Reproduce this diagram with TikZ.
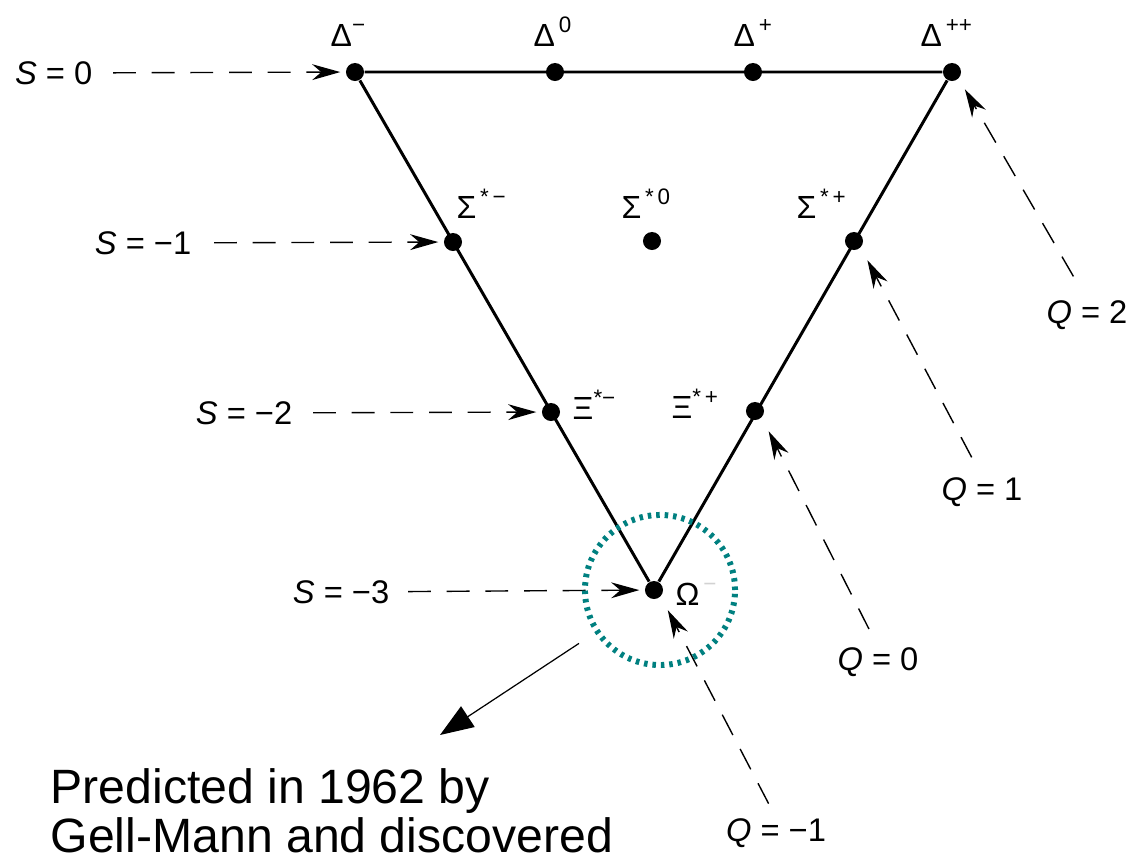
\documentclass[tikz,border=0pt]{standalone}
\usepackage{fontspec}
\setmainfont{Liberation Sans}
\usetikzlibrary{arrows.meta}
\definecolor{ringteal}{RGB}{0,128,128}

\begin{document}
\begin{tikzpicture}[x=0.01cm, y=-0.01cm,
    dot/.style={circle, fill=black, inner sep=0pt, minimum size=0.18cm},
    edge/.style={line width=0.85pt},
    hint/.style={line width=0.4pt, dash pattern=on 6.5pt off 4.5pt,
      -{Stealth[length=8pt, width=4.5pt]}},
    plabel/.style={anchor=base west, inner sep=0pt, font=\fontsize{9.1}{11}\selectfont},
    slabel/.style={anchor=east, inner sep=0pt, font=\fontsize{9.3}{11}\selectfont},
    qlabel/.style={inner sep=0pt, font=\fontsize{9.3}{11}\selectfont},
    ring/.style={circle, draw=ringteal, line width=1.7pt, dash pattern=on 1pt off 1.4pt,
      minimum size=1.5cm, inner sep=0pt},
    pointer/.style={line width=0.35pt, -{Triangle[length=9.5pt, width=7pt]}},
    note/.style={anchor=north west, inner sep=0pt, align=left,
      font=\fontsize{13.7}{13.9}\selectfont},
  ]
  \path[use as bounding box, clip] (0,0) rectangle (1138,854);

  % the ten states of the decuplet
  \node[dot] (dm)  at (355,72) {};
  \node[dot] (dz)  at (555,72) {};
  \node[dot] (dp)  at (753,72) {};
  \node[dot] (dpp) at (952,72) {};
  \node[dot] (sm)  at (453,242) {};
  \node[dot] (sz)  at (652,241) {};
  \node[dot] (sp)  at (854,241) {};
  \node[dot] (xm)  at (551,412) {};
  \node[dot] (xp)  at (755,411) {};
  \node[dot] (om)  at (654,590) {};

  % triangle
  \draw[edge] (dm) -- (dpp) -- (om) -- (dm);

  % particle names
  \node[plabel] at (330,46) {Δ\textsuperscript{−}};
  \node[plabel] at (533,46) {Δ\textsuperscript{\,0}};
  \node[plabel] at (733,46) {Δ\textsuperscript{\,+}};
  \node[plabel] at (920,46) {Δ\textsuperscript{\,++}};
  \node[plabel] at (456,218) {Σ\textsuperscript{\,*\,−}};
  \node[plabel] at (621,218) {Σ\textsuperscript{\,*\,0}};
  \node[plabel] at (796,218) {Σ\textsuperscript{\,*\,+}};
  \node[plabel] at (572,419) {Ξ\textsuperscript{*−}};
  \node[plabel] at (671,418) {Ξ\textsuperscript{*\,+}};
  \node[plabel] at (675,605) {Ω\textsuperscript{\,\color{gray!35}−}};

  % strangeness rows
  \node[slabel] (s0) at (93,73)  {\textit{S} = 0};
  \node[slabel] (s1) at (192,243) {\textit{S} = −1};
  \node[slabel] (s2) at (293,413) {\textit{S} = −2};
  \node[slabel] (s3) at (390,592) {\textit{S} = −3};
  \draw[hint, shorten <=0.2cm, shorten >=0.05cm] (s0) -- (dm);
  \draw[hint, shorten <=0.22cm, shorten >=0.05cm] (s1) -- (sm);
  \draw[hint, shorten <=0.2cm, shorten >=0.05cm] (s2) -- (xm);
  \draw[hint, shorten <=0.18cm, shorten >=0.05cm] (s3) -- (om);

  % charge diagonals
  \node[qlabel] (q2) at (1087,315) {\textit{Q} = 2};
  \node[qlabel] (q1) at (982,492) {\textit{Q} = 1};
  \node[qlabel] (q0) at (878,662) {\textit{Q} = 0};
  \node[qlabel] (qm) at (776,833) {\textit{Q} = −1};
  \draw[hint, shorten <=0.27cm, shorten >=0.12cm] (q2.north) -- (dpp.south east);
  \draw[hint, shorten <=0.22cm, shorten >=0.14cm] (q1.north) -- (sp.south east);
  \draw[hint, shorten <=0.2cm, shorten >=0.15cm] (q0.north) -- (xp.south east);
  \draw[hint, shorten <=0.16cm, shorten >=0.15cm] (qm.north) -- (om.south east);

  % Omega minus highlight
  \node[ring] (ring) at (660,590) {};
  \coordinate (tip) at (440,735);
  \draw[pointer, shorten <=0.19cm] (ring) -- (tip);
  \node[note] (pred) at (50,768) {Predicted in 1962 by\\Gell-Mann and discovered};
\end{tikzpicture}
\end{document}
